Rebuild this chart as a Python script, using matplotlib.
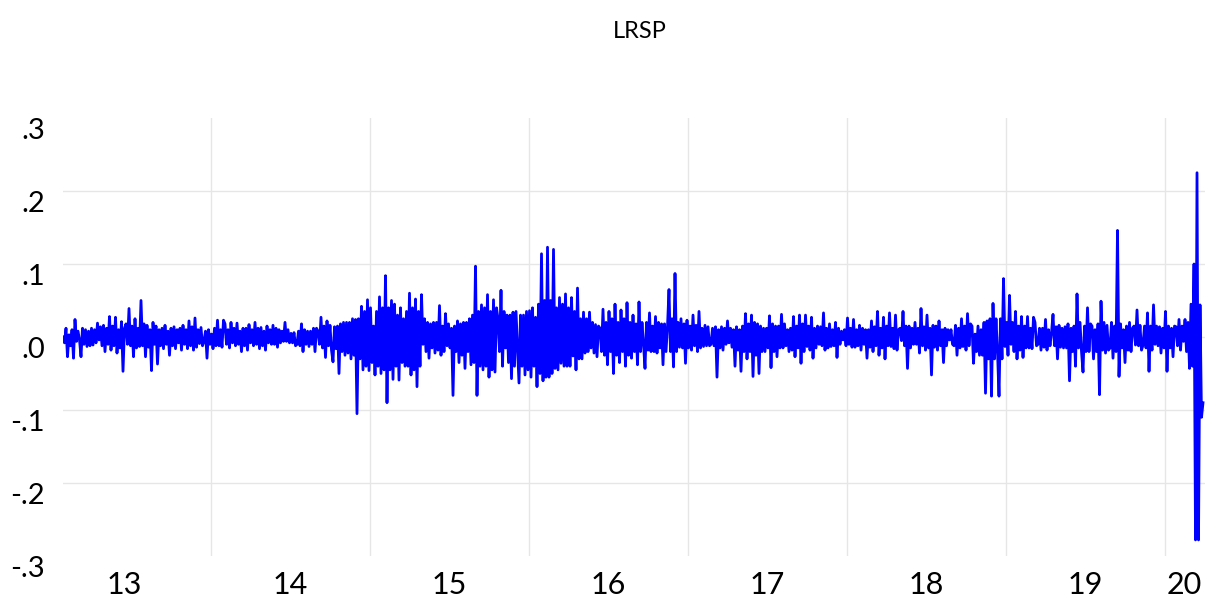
import matplotlib
matplotlib.use("Agg")
import matplotlib.pyplot as plt
import numpy as np

# ---- data (daily log returns) ----
title = "LRSP"
year_bounds = [2014, 2015, 2016, 2017, 2018, 2019, 2020]
year_labels = ["13", "14", "15", "16", "17", "18", "19", "20"]
year_label_pos = [2013.455, 2014.5, 2015.5, 2016.5, 2017.5, 2018.5, 2019.5, 2020.125]
y_ticks = [-0.3, -0.2, -0.1, 0.0, 0.1, 0.2, 0.3]
y_tick_labels = ["-.3", "-.2", "-.1", ".0", ".1", ".2", ".3"]
y_grid = [-0.2, -0.1, 0.0, 0.1, 0.2]
start_date, end_date, axis_end = 2013.071, 2020.241, 2020.2535

lrsp_2013 = [
    0.0, -0.008, 0.012, -0.027, 0.003, -0.012, 0.01, -0.029,
    0.024, -0.006, 0.008, -0.004, -0.027, 0.012, -0.01, 0.01,
    -0.013, 0.008, -0.012, 0.012, -0.011, 0.01, -0.008, 0.019,
    -0.004, 0.014, -0.012, 0.016, -0.02, 0.012, -0.01, 0.028,
    -0.018, 0.015, -0.012, 0.027, -0.022, 0.01, -0.015, 0.021,
    -0.047, 0.012, 0.018, -0.01, 0.039, -0.012, 0.015, -0.027,
    0.025, -0.015, 0.012, -0.013, 0.05, -0.012, 0.018, -0.027,
    0.016, -0.014, 0.01, -0.046, 0.02, -0.01, 0.015, -0.037,
    0.01, -0.012, 0.012, -0.016, 0.016, -0.01, 0.008, -0.025,
    0.012, -0.012, 0.014, -0.016, 0.01, -0.008, 0.012, -0.018,
    0.016, -0.01, 0.01, -0.016, 0.022, -0.012, 0.014, -0.018,
    0.026, -0.014, 0.01, -0.009, 0.013, -0.012, -0.006, 0.008,
    -0.029, 0.01, -0.01, 0.004, -0.016, 0.012, -0.012, 0.023,
    -0.012, 0.01, -0.014, 0.023,
]
lrsp_2014 = [
    0.018, -0.01, 0.01, -0.015, 0.02, -0.008, 0.012, -0.012,
    0.019, -0.01, 0.008, -0.02, 0.012, -0.012, 0.012, -0.018,
    0.017, -0.008, 0.01, -0.012, 0.02, -0.01, 0.012, -0.016,
    0.013, -0.012, 0.008, -0.018, 0.015, -0.008, 0.01, -0.01,
    0.016, -0.01, 0.012, -0.014, 0.01, -0.008, 0.008, -0.006,
    0.02, -0.006, 0.01, -0.008, 0.005, -0.008, 0.006, -0.012,
    -0.01, 0.008, -0.012, 0.018, -0.02, 0.01, -0.01, 0.008,
    -0.013, 0.008, -0.01, 0.012, -0.02, 0.012, 0.008, -0.01,
    0.027, -0.015, 0.015, -0.028, 0.022, -0.012, 0.016, -0.018,
    -0.034, 0.014, -0.016, 0.015, -0.05, 0.018, -0.02, 0.02,
    -0.025, 0.02, -0.022, 0.02, -0.03, 0.025, -0.025, 0.024,
    -0.105, 0.025, -0.03, 0.042, -0.045, 0.035, -0.04, 0.051,
    -0.046, 0.04, -0.035, 0.015, -0.052, 0.035, -0.04, 0.055,
    -0.05, 0.04, -0.045, 0.084,
]
lrsp_2015 = [
    -0.09, 0.04, -0.045, 0.05, -0.058, 0.045, -0.04, 0.03,
    -0.059, 0.04, -0.035, 0.025, -0.04, 0.035, -0.04, 0.06,
    -0.052, 0.04, -0.045, 0.052, -0.068, 0.035, -0.04, 0.058,
    -0.01, 0.025, -0.02, 0.02, -0.029, 0.018, -0.015, 0.02,
    -0.022, 0.02, -0.018, 0.043, -0.025, 0.015, -0.02, 0.032,
    -0.012, 0.018, -0.015, 0.012, -0.08, 0.015, -0.02, 0.022,
    -0.035, 0.018, -0.025, 0.02, -0.043, 0.02, -0.02, 0.025,
    -0.038, 0.03, -0.035, 0.097, -0.08, 0.035, -0.04, 0.044,
    -0.045, 0.04, -0.04, 0.058, -0.055, 0.035, -0.045, 0.051,
    -0.048, 0.04, 0.025, -0.02, 0.064, -0.04, 0.035, -0.015,
    0.03, -0.035, 0.03, -0.057, 0.034, -0.04, 0.035, -0.015,
    -0.063, 0.03, -0.04, 0.03, -0.052, 0.035, -0.045, 0.036,
    -0.055, 0.04, -0.04, 0.027, -0.068, 0.045, -0.05, 0.114,
    -0.06, 0.05, -0.055, 0.123,
]
lrsp_2016 = [
    -0.055, 0.05, -0.05, 0.12, -0.043, 0.04, -0.045, 0.054,
    -0.036, 0.045, -0.04, 0.059, -0.04, 0.04, -0.04, 0.054,
    -0.026, 0.035, -0.045, 0.067, -0.03, 0.025, -0.03, 0.034,
    -0.022, 0.025, -0.02, 0.034, -0.015, 0.02, -0.022, 0.017,
    -0.027, 0.015, 0.012, -0.02, 0.038, -0.025, 0.02, -0.038,
    0.035, -0.02, 0.025, -0.05, 0.045, -0.025, 0.02, -0.035,
    0.037, -0.02, 0.025, -0.04, 0.047, -0.025, 0.02, -0.029,
    0.03, -0.02, 0.018, -0.038, 0.048, -0.02, 0.02, -0.01,
    -0.043, 0.02, -0.018, 0.033, -0.02, 0.015, -0.02, 0.028,
    -0.022, 0.02, -0.015, 0.018, -0.038, 0.018, -0.02, 0.015,
    0.065, -0.02, 0.025, -0.041, 0.087, -0.02, 0.02, -0.014,
    0.025, -0.015, 0.018, -0.036, 0.023, -0.015, 0.015, -0.018,
    0.03, -0.012, 0.016, -0.02, 0.035, -0.015, 0.012, -0.013,
    0.016, -0.012, 0.014, -0.012,
]
lrsp_2017 = [
    -0.01, 0.012, -0.012, 0.014, -0.055, 0.01, -0.015, 0.014,
    -0.018, 0.012, -0.01, 0.022, -0.008, 0.012, -0.014, 0.01,
    -0.04, 0.014, -0.018, 0.01, -0.047, 0.015, -0.02, 0.032,
    -0.03, 0.018, -0.02, 0.03, -0.054, 0.02, -0.025, 0.018,
    -0.05, 0.015, -0.02, 0.012, -0.02, 0.012, -0.015, 0.029,
    -0.042, 0.018, -0.02, 0.015, -0.027, 0.015, -0.015, 0.031,
    -0.015, 0.018, -0.012, 0.01, -0.02, 0.012, -0.018, 0.028,
    -0.027, 0.015, -0.015, 0.03, -0.036, 0.018, -0.02, 0.03,
    -0.013, 0.015, -0.018, 0.027, -0.029, 0.012, -0.015, 0.015,
    -0.01, 0.014, -0.012, 0.033, -0.018, 0.012, -0.015, 0.018,
    -0.013, 0.01, -0.012, 0.02, -0.028, 0.012, -0.01, 0.008,
    -0.004, 0.01, -0.012, 0.026, -0.01, 0.012, -0.014, 0.024,
    -0.014, 0.01, -0.012, 0.016, -0.018, 0.012, -0.01, 0.01,
    -0.029, 0.01, -0.014, 0.022,
]
lrsp_2018 = [
    -0.02, 0.014, -0.012, 0.035, -0.025, 0.012, -0.015, 0.027,
    -0.03, 0.015, -0.012, 0.033, -0.013, 0.012, -0.016, 0.03,
    -0.018, 0.01, 0.012, -0.005, 0.035, -0.012, 0.015, -0.043,
    0.015, -0.015, 0.012, -0.01, 0.02, -0.01, 0.012, -0.022,
    0.039, -0.012, 0.014, -0.018, 0.03, -0.015, 0.012, -0.052,
    0.016, -0.014, 0.015, -0.018, 0.022, -0.012, 0.01, -0.035,
    0.012, -0.012, 0.01, -0.004, 0.01, -0.01, -0.012, 0.016,
    -0.025, 0.012, -0.015, 0.025, -0.013, 0.015, -0.018, 0.032,
    -0.012, 0.018, 0.015, -0.036, 0.004, -0.02, 0.015, -0.025,
    0.01, -0.025, 0.02, -0.077, 0.022, -0.03, 0.025, -0.081,
    0.046, -0.03, 0.025, -0.02, -0.081, 0.025, -0.03, 0.08,
    -0.013, 0.02, -0.025, 0.057, -0.01, 0.02, -0.02, 0.035,
    -0.03, 0.015, -0.018, 0.028, -0.028, 0.015, -0.015, 0.028,
    -0.015, 0.012, -0.016, 0.027,
]
lrsp_2019_20 = [
    0.02, -0.012, -0.01, 0.012, -0.018, 0.012, -0.014, 0.024,
    -0.018, 0.01, -0.012, 0.006, 0.031, -0.012, 0.014, -0.03,
    0.016, -0.014, 0.012, -0.015, 0.014, -0.015, 0.018, -0.06,
    0.012, -0.02, 0.015, -0.04, 0.059, -0.015, 0.02, -0.02,
    -0.048, 0.015, -0.02, 0.04, -0.02, 0.018, 0.015, -0.03,
    0.01, -0.02, 0.018, -0.079, 0.049, -0.018, 0.02, -0.022,
    0.016, -0.018, -0.015, 0.02, -0.029, 0.015, -0.02, 0.146,
    -0.054, 0.018, -0.015, 0.01, -0.035, 0.015, -0.018, 0.02,
    -0.02, 0.012, 0.015, -0.011, 0.037, -0.012, 0.016, -0.018,
    -0.011, 0.015, -0.015, 0.033, -0.047, 0.015, -0.018, 0.044,
    -0.01, 0.015, -0.012, 0.014, -0.022, 0.012, -0.015, 0.035,
    -0.047, 0.015, -0.015, 0.012, -0.027, 0.015, 0.014, -0.012,
    0.024, -0.018, 0.015, -0.006, 0.024, -0.02, 0.02, -0.043,
    0.045, -0.04, 0.1, -0.278, 0.225, -0.278, 0.044, -0.11,
    -0.09,
]

lrsp = (lrsp_2013 + lrsp_2014 + lrsp_2015 + lrsp_2016
        + lrsp_2017 + lrsp_2018 + lrsp_2019_20)

# ---- figure ----
W, H = 1217, 602
fig = plt.figure(figsize=(W / 100, H / 100), dpi=100)
ax = fig.add_axes([63 / W, 46 / H, 1142 / W, 438 / H])

font = ["Lato", "DejaVu Sans"]
grid_c = "#e6e6e6"

for yb in year_bounds:
    ax.axvline(yb, color=grid_c, lw=1.0, zorder=0)
for yg in y_grid:
    ax.axhline(yg, color=grid_c, lw=1.0, zorder=0)

x = np.linspace(start_date, end_date, len(lrsp))
ax.plot(x, lrsp, color="#0000ff", lw=2.0, zorder=3)

ax.set_xlim(start_date, axis_end)
ax.set_ylim(-0.3, 0.3)

for s in ax.spines.values():
    s.set_visible(False)

ax.set_xticks([])
ax.set_xticks(year_label_pos, minor=True)
ax.set_xticklabels(year_labels, minor=True, fontsize=22, family=font)
ax.tick_params(axis="x", which="both", length=0, pad=11)

ax.set_yticks(y_ticks)
ax.set_yticklabels(y_tick_labels, fontsize=21, family=font)
ax.tick_params(axis="y", length=0, pad=13)
for lbl in ax.get_yticklabels():
    lbl.set_verticalalignment("top")

fig.text(640 / W, 1 - 31 / H, title, ha="center", va="center",
         fontsize=17, family=font)

fig.savefig("out.png", dpi=100, facecolor="white")
